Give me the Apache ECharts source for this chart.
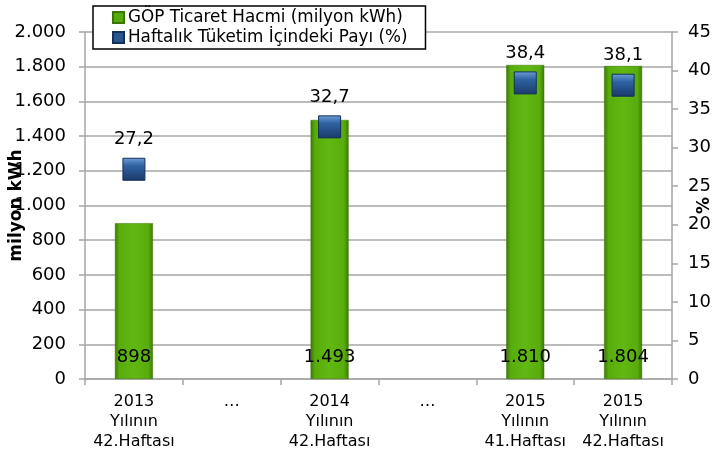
<!DOCTYPE html>
<html><head><meta charset="utf-8">
<script src="https://cdn.jsdelivr.net/npm/echarts@6/dist/echarts.min.js"></script>
<style>html,body{margin:0;padding:0;background:#fff}#c{width:716px;height:455px}</style>
</head><body><div id="c"></div>
<script>
const categories = ["2013\nYılının\n42.Haftası", "…", "2014\nYılının\n42.Haftası", "…", "2015\nYılının\n41.Haftası", "2015\nYılının\n42.Haftası"];
const volume = [898, null, 1493, null, 1810, 1804];
const share = [27.2, null, 32.7, null, 38.4, 38.1];
const seriesNames = ["GÖP Ticaret Hacmi (milyon kWh)", "Haftalık Tüketim İçindeki Payı (%)"];

const fmtDot = v => String(v).replace(/\B(?=(\d{3})+(?!\d))/g, '.');
const fmtComma = v => v.toFixed(1).replace('.', ',');
const FONT = 'DejaVu Sans, Liberation Sans, Arial, sans-serif';

const chart = echarts.init(document.getElementById('c'), null, {renderer: 'canvas'});
const barColor = new echarts.graphic.LinearGradient(0, 0, 1, 0, [
  {offset: 0, color: '#3c7a05'}, {offset: 0.12, color: '#58ac0b'},
  {offset: 0.5, color: '#62b812'}, {offset: 0.88, color: '#58ac0b'}, {offset: 1, color: '#3c7a05'}
]);
const markColor = new echarts.graphic.LinearGradient(0, 0, 0, 1, [
  {offset: 0, color: '#6e9fda'}, {offset: 0.35, color: '#2f62a3'}, {offset: 1, color: '#1a3a68'}
]);
const GRAY = '#a6a6a6';
chart.setOption({
  animation: false,
  textStyle: {fontFamily: FONT},
  grid: {left: 85, right: 44, top: 32, bottom: 76, outerBoundsMode: 'none', containLabel: false},
  legend: {
    orient: 'vertical', left: 93, top: 6,
    padding: [3, 18, 3, 19], itemGap: 3, itemWidth: 11, itemHeight: 11,
    borderColor: '#000', borderWidth: 1.5, backgroundColor: '#fff',
    textStyle: {fontSize: 16.8, color: '#000', fontFamily: FONT, padding: [0, 0, 0, -1]},
    data: [
      {name: seriesNames[0], icon: 'rect', itemStyle: {color: '#57aa0b'}},
      {name: seriesNames[1], icon: 'rect', itemStyle: {color: '#2a568e'}}
    ]
  },
  xAxis: {
    type: 'category', data: categories,
    axisLine: {lineStyle: {color: GRAY, width: 1.5}},
    axisTick: {show: true, length: 6, lineStyle: {color: GRAY, width: 1.5}},
    axisLabel: {color: '#000', fontSize: 16, lineHeight: 20, margin: 13, interval: 0, fontFamily: FONT}
  },
  yAxis: [{
    type: 'value', min: 0, max: 2000, interval: 200,
    name: 'milyon kWh', nameLocation: 'middle', nameGap: 60, nameMoveOverlap: false,
    nameTextStyle: {fontSize: 17, fontWeight: 'bold', color: '#000', fontFamily: FONT},
    axisLine: {show: true, lineStyle: {color: GRAY, width: 1.5}},
    axisTick: {show: true, length: 6, lineStyle: {color: GRAY, width: 1.5}},
    axisLabel: {color: '#000', fontSize: 18, margin: 19, formatter: v => fmtDot(v), fontFamily: FONT},
    splitLine: {lineStyle: {color: GRAY, width: 1.5}}
  }, {
    type: 'value', min: 0, max: 45, interval: 5,
    name: '%', nameLocation: 'middle', nameGap: 24, nameMoveOverlap: false,
    nameTextStyle: {fontSize: 17, fontWeight: 'bold', color: '#000', fontFamily: FONT},
    axisLine: {show: true, lineStyle: {color: GRAY, width: 1.5}},
    axisTick: {show: true, length: 6, lineStyle: {color: GRAY, width: 1.5}},
    axisLabel: {color: '#000', fontSize: 18, margin: 16, fontFamily: FONT},
    splitLine: {show: false}
  }],
  series: [{
    name: seriesNames[0], type: 'bar', data: volume, barWidth: 38,
    itemStyle: {color: barColor, borderColor: '#3a7405', borderWidth: 0.5},
    label: {show: true, position: 'insideBottom', distance: 13, color: '#000', fontSize: 18,
      fontFamily: FONT, formatter: p => fmtDot(p.value)}
  }, {
    name: seriesNames[1], type: 'scatter', yAxisIndex: 1, data: share,
    symbol: 'rect', symbolSize: 22,
    itemStyle: {color: markColor, borderColor: '#14305a', borderWidth: 1, opacity: 1},
    label: {show: true, position: 'top', distance: 9, color: '#000', fontSize: 18,
      fontFamily: FONT, formatter: p => fmtComma(p.value)}
  }]
});
</script></body></html>
